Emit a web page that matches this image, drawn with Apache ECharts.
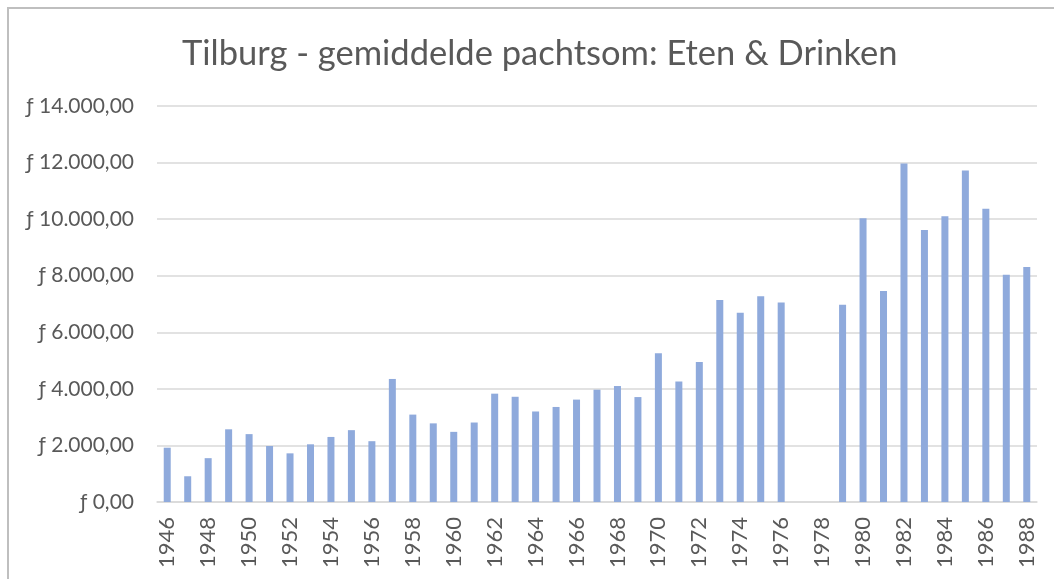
<!DOCTYPE html>
<html>
<head>
<meta charset="utf-8">
<script src="https://cdn.jsdelivr.net/npm/echarts@6/dist/echarts.min.js"></script>
<style>
html,body{margin:0;padding:0;background:#fff;}
#chart{width:1054px;height:579px;}
</style>
</head>
<body>
<div id="chart"></div>
<script>
const titleText = 'Tilburg - gemiddelde pachtsom: Eten & Drinken';
const years = [];
for (let y = 1946; y <= 1988; y++) years.push(String(y));
const values = [
  1920, 910, 1550, 2570, 2400, 1980, 1720, 2040, 2300, 2540,
  2150, 4350, 3090, 2780, 2480, 2810, 3830, 3720, 3200, 3360,
  3620, 3970, 4100, 3710, 5260, 4260, 4950, 7140, 6690, 7270,
  7050, null, null, 6970, 10030, 7460, 11970, 9620, 10100, 11720,
  10370, 8030, 8310
];
const yTicks = [0, 2000, 4000, 6000, 8000, 10000, 12000, 14000];

function fmt(v) {
  const s = String(Math.round(v)).replace(/\B(?=(\d{3})+(?!\d))/g, '.');
  return '\u0192 ' + s + ',00';
}

const chart = echarts.init(document.getElementById('chart'));
chart.setOption({
  animation: false,
  backgroundColor: '#ffffff',
  title: {
    text: titleText,
    left: 177,
    top: 31,
    textStyle: { fontFamily: 'Lato', fontWeight: 'normal', fontSize: 34.5, color: '#595959' }
  },
  graphic: [{
    type: 'rect',
    shape: { x: 8, y: 8, width: 1200, height: 700 },
    style: { fill: 'none', stroke: '#bfbfbf', lineWidth: 2 },
    silent: true
  }],
  grid: { left: 157, right: 17, top: 106, bottom: 77, containLabel: false },
  xAxis: {
    type: 'category',
    data: years,
    axisTick: { show: false },
    axisLine: { lineStyle: { color: '#d9d9d9', width: 1.5 } },
    axisLabel: {
      interval: 1,
      rotate: 90,
      margin: 15,
      fontFamily: 'Lato',
      fontSize: 22,
      color: '#595959'
    }
  },
  yAxis: {
    type: 'value',
    min: yTicks[0],
    max: yTicks[yTicks.length - 1],
    interval: 2000,
    axisLine: { show: false },
    axisTick: { show: false },
    splitLine: { lineStyle: { color: '#d9d9d9', width: 1.5 } },
    axisLabel: {
      formatter: fmt,
      margin: 23,
      fontFamily: 'Lato',
      fontSize: 21,
      color: '#595959'
    }
  },
  series: [{
    type: 'bar',
    data: values,
    barWidth: 7,
    itemStyle: { color: '#8faadc' }
  }]
});
</script>
</body>
</html>
